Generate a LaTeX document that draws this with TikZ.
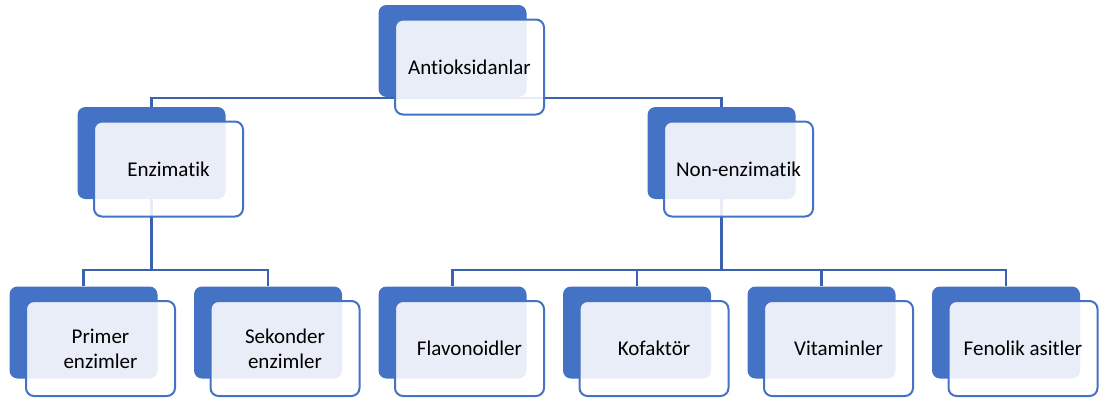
\documentclass[tikz,border=0pt]{standalone}
\usepackage{fontspec}
\setmainfont{Carlito}[Ligatures={NoCommon}]
\usepackage{tikz}
\usetikzlibrary{positioning}
\definecolor{boxBlue}{HTML}{4472C4}
\definecolor{lineBlue}{HTML}{3A62AE}
\tikzset{%
  % back and front boxes of each item
            back/.style = {rectangle, rounded corners=8pt, fill=boxBlue,
                           minimum width=148pt, minimum height=92pt},
            front/.style = {rectangle, rounded corners=8pt, draw=boxBlue, line width=2pt,
                           fill=white, fill opacity=0.88, text opacity=1,
                           minimum width=149pt, minimum height=95pt,
                           text centered, align=center},
            link/.style = {draw=lineBlue, line width=2.2pt},
 }

\begin{document}
\begin{tikzpicture}[x=1pt, y=-1pt, every node/.style={font=\fontsize{21}{25}\selectfont}]
  \useasboundingbox (0,0) rectangle (1099,399);
  % back boxes
     \node (antiB) [back] at (452.5,51) {};
     \node (enzB) [back] at (151.5,153) {};
     \node (nonB) [back] at (721.5,153) {};

     \node (primB) [back] at (83.5,332.5) {};
     \node (sekB) [back] at (268,332.5) {};
     \node (flavB) [back] at (452.5,332.5) {};
     \node (kofB) [back] at (637,332.5) {};
     \node (vitB) [back] at (821.5,332.5) {};
     \node (fenB) [back] at (1006,332.5) {};

  % connectors
     \draw[link] (antiB.south) --+(0,1) -| (enzB.north);
     \draw[link] (antiB.south) --+(0,1) -| (nonB.north);

     \draw[link] (enzB.south) --+(0,71) -| (primB.north);
     \draw[link] (enzB.south) --+(0,71) -| (sekB.north);

     \draw[link] (nonB.south) --+(0,71) -| (flavB.north);
     \draw[link] (nonB.south) --+(0,71) -| (kofB.north);
     \draw[link] (nonB.south) --+(0,71) -| (vitB.north);
     \draw[link] (nonB.south) --+(0,71) -| (fenB.north);

  % front boxes with the texts
     \node (anti) [front] at ([shift={(17,16)}]antiB.center) {Antioksidanlar};
     \node (enz) [front] at ([shift={(17,16)}]enzB.center) {Enzimatik};
     \node (non) [front] at ([shift={(17,16)}]nonB.center) {Non-enzimatik};

     \node (prim) [front] at ([shift={(17,16)}]primB.center) {Primer\\enzimler};
     \node (sek) [front] at ([shift={(17,16)}]sekB.center) {Sekonder\\enzimler};
     \node (flav) [front] at ([shift={(17,16)}]flavB.center) {Flavonoidler};
     \node (kof) [front] at ([shift={(17,16)}]kofB.center) {Kofaktör};
     \node (vit) [front] at ([shift={(17,16)}]vitB.center) {Vitaminler};
     \node (fen) [front] at ([shift={(17,16)}]fenB.center) {Fenolik asitler};

\end{tikzpicture}
\end{document}
